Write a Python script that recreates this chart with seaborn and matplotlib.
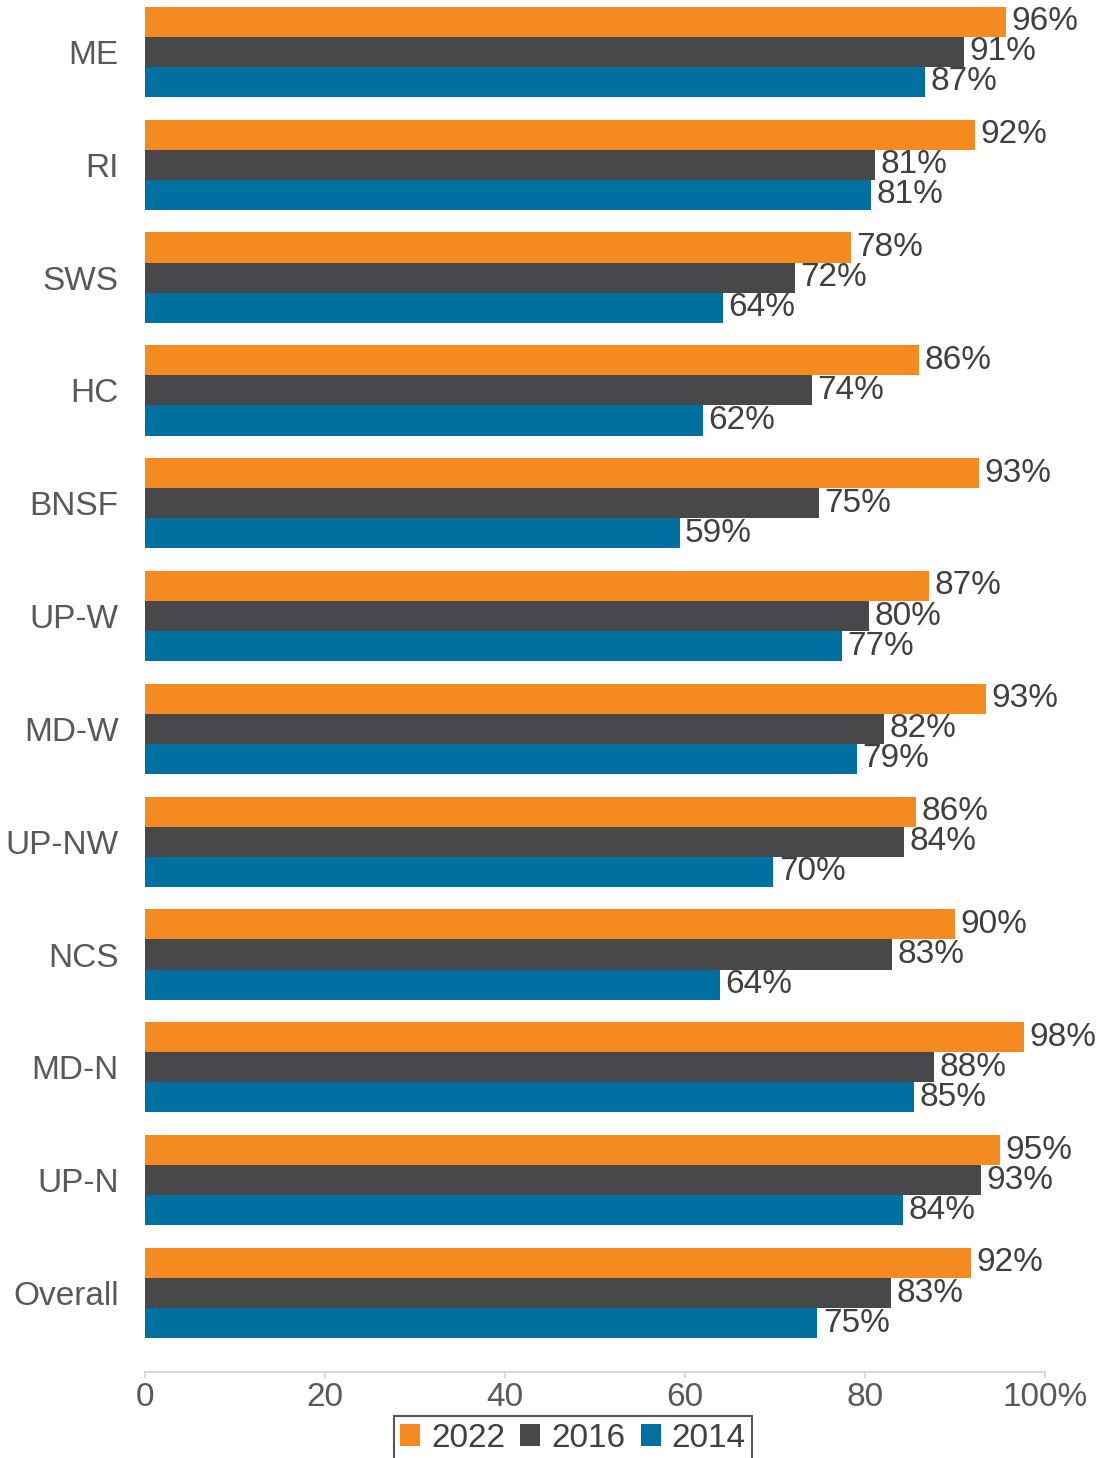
import pandas as pd
import matplotlib
matplotlib.use('Agg')
import matplotlib.pyplot as plt
import seaborn as sns
from matplotlib.patches import Patch

# Data (percent)
kategori = ['ME', 'RI', 'SWS', 'HC', 'BNSF', 'UP-W', 'MD-W', 'UP-NW', 'NCS', 'MD-N', 'UP-N', 'Overall']
tahun = ['2022', '2016', '2014']
nilai_2022 = [95.7, 92.2, 78.4, 86.0, 92.7, 87.1, 93.4, 85.7, 90.0, 97.7, 95.0, 91.8]
nilai_2016 = [91.0, 81.1, 72.2, 74.1, 74.9, 80.4, 82.1, 84.3, 83.0, 87.7, 92.9, 82.9]
nilai_2014 = [86.7, 80.7, 64.2, 62.0, 59.4, 77.4, 79.1, 69.8, 63.9, 85.4, 84.2, 74.7]
warna = ['#F58B20', '#48484A', '#0070A0']

df = pd.DataFrame({
    'kategori': kategori * 3,
    'tahun': ['2022'] * 12 + ['2016'] * 12 + ['2014'] * 12,
    'nilai': nilai_2022 + nilai_2016 + nilai_2014,
})

sns.set_style('white')
plt.rcParams['font.family'] = ['Liberation Sans', 'DejaVu Sans']
fs = 24

fig = plt.figure(figsize=(11.04, 14.58), dpi=100)
ax = fig.add_axes([145 / 1104, 1 - 1372 / 1458, 900 / 1104, 1372 / 1458])

sns.barplot(data=df, y='kategori', x='nilai', hue='tahun', hue_order=tahun,
            order=kategori, palette=warna, saturation=1, orient='h',
            width=0.8, legend=False, linewidth=0, ax=ax)

for c in ax.containers:
    ax.bar_label(c, fmt=lambda v: f'{v:.0f}%', padding=4, fontsize=fs, color='#404040')

ax.set_xlim(0, 100)
ax.set_ylim(11.70, -0.46)
ax.set_xticks([0, 20, 40, 60, 80, 100])
ax.set_xticklabels(['0', '20', '40', '60', '80', '100%'])
ax.set_xlabel('')
ax.set_ylabel('')
ax.tick_params(axis='x', labelsize=fs, labelcolor='#595959', color='#D9D9D9',
               direction='out', length=4, width=1.5, pad=3, bottom=True)
ax.tick_params(axis='y', labelsize=fs, labelcolor='#595959', length=0, pad=19)
for s in ['top', 'right', 'left']:
    ax.spines[s].set_visible(False)
ax.spines['bottom'].set_color('#D9D9D9')
ax.spines['bottom'].set_linewidth(1.5)

handles = [Patch(facecolor=w, edgecolor='none', label=t) for w, t in zip(warna, tahun)]
leg = fig.legend(handles=handles, loc='upper center', ncol=3,
                 bbox_to_anchor=(573 / 1104, 1 - 1416 / 1458),
                 fontsize=fs, frameon=True, fancybox=False, framealpha=1,
                 handlelength=0.6, handleheight=0.6, handletextpad=0.33,
                 columnspacing=0.45, borderpad=0.2, borderaxespad=0)
leg.get_frame().set_edgecolor('#595959')
leg.get_frame().set_linewidth(1.5)
for t in leg.get_texts():
    t.set_color('#404040')

fig.savefig('out.png', dpi=100)
